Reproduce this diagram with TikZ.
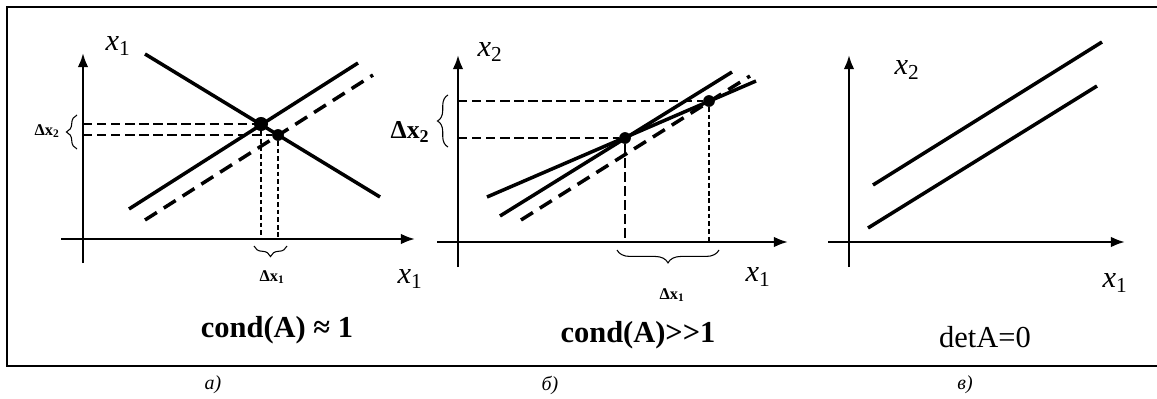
\documentclass[tikz,border=0pt]{standalone}
\usepackage{fontspec}
\setmainfont{Liberation Serif}
\usepackage{tikz}
\usetikzlibrary{arrows.meta,decorations.pathreplacing}

\begin{document}
\begin{tikzpicture}[
  x=0.03cm, y=-0.03cm,
  axis/.style={line width=2.1pt, -{Latex[length=12pt,width=9pt]}},
  graph/.style={line width=3pt},
  shifted/.style={graph, dash pattern=on 12pt off 7pt},
  guide/.style={line width=1.5pt, dash pattern=on 8pt off 4pt},
  thinguide/.style={line width=1.1pt, dash pattern=on 4pt off 2.5pt},
  dot/.style={circle, fill, inner sep=0pt, minimum size=10pt},
  brace/.style={decorate, decoration={brace, amplitude=9pt}, line width=0.9pt},
  axlabel/.style={font=\fontsize{26}{30}\selectfont},
  title/.style={font=\fontsize{26}{30}\selectfont},
  delta/.style={font=\fontsize{14}{16}\selectfont\bfseries},
  bigdelta/.style={font=\fontsize{22}{26}\selectfont\bfseries},
  panel/.style={font=\fontsize{17}{20}\selectfont\itshape},
]
\useasboundingbox (0,0) rectangle (1157,399);

% Frame round the three panels (open on the right).
\draw[line width=2.4pt] (1157,7) -- (7,7) -- (7,366) -- (1157,366);

% Panel a): well-conditioned system.
\draw[axis] (83,263) -- (83,53);
\draw[axis] (61,239) -- (415,239);
\draw[graph]   (145,54) -- (380,197);
\draw[graph]   (129,209) -- (358,63);
\draw[shifted] (145,220) -- (373,75);
\node[dot, minimum size=12pt] (pa1) at (261,124) {};
\node[dot] (pa2) at (278,135) {};
\draw[guide] (83,124) -- (pa1);
\draw[guide] (83,135) -- (pa2);
\draw[thinguide] (pa1) -- (261,239);
\draw[thinguide] (pa2) -- (278,239);
\draw[brace] (77,149) -- (77,115);
\draw[brace, decoration={mirror}] (254,246) -- (287,246);
\node[delta] (dxa2) at (47,131) {Δx\textsubscript{2}};
\node[delta] (dxa1) at (272,277) {Δx\textsubscript{1}};
\node[axlabel] (ya) at (118,46) {\textit{x}\textsubscript{1}};
\node[axlabel] (xa) at (410,279) {\textit{x}\textsubscript{1}};
\node[title] (ca) at (277,330) {\textbf{cond(A) ≈ 1}};
\node[panel] (la) at (213,385) {а)};

% Panel b): ill-conditioned system.
\draw[axis] (458,267) -- (458,55);
\draw[axis] (437,242) -- (788,242);
\draw[graph]   (487,197) -- (756,81);
\draw[graph]   (500,216) -- (732,72);
\draw[shifted] (521,220) -- (750,76);
\node[dot] (pb1) at (625,138) {};
\node[dot] (pb2) at (709,101) {};
\draw[guide] (458,101) -- (pb2);
\draw[guide] (458,138) -- (pb1);
\draw[guide] (pb1) -- (625,242);
\draw[thinguide] (pb2) -- (709,242);
\draw[brace] (448,147) -- (448,95);
\draw[brace, decoration={mirror, amplitude=11pt}] (617,250) -- (719,250);
\node[bigdelta] (dxb2) at (410,132) {Δx\textsubscript{2}};
\node[delta] (dxb1) at (672,295) {Δx\textsubscript{1}};
\node[axlabel] (yb) at (490,52) {\textit{x}\textsubscript{2}};
\node[axlabel] (xb) at (758,277) {\textit{x}\textsubscript{1}};
\node[title] (cb) at (638,335) {\textbf{cond(A)>{}>1}};
\node[panel] (lb) at (550,385) {б)};

% Panel c): singular matrix, parallel lines.
\draw[axis] (849,267) -- (849,55);
\draw[axis] (828,242) -- (1125,242);
\draw[graph] (873,185) -- (1102,42);
\draw[graph] (868,228) -- (1097,86);
\node[axlabel] (yc) at (907,70) {\textit{x}\textsubscript{2}};
\node[axlabel] (xc) at (1115,283) {\textit{x}\textsubscript{1}};
\node[title] (cc) at (985,337) {detA=0};
\node[panel] (lc) at (965,385) {в)};

\end{tikzpicture}
\end{document}
